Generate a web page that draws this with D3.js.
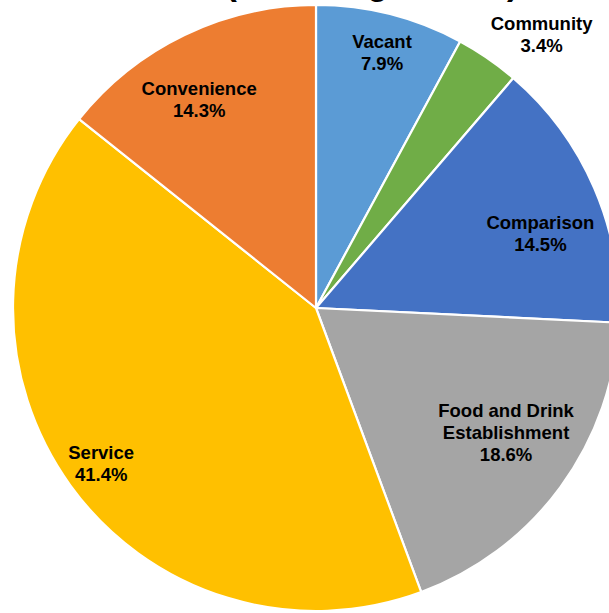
<!DOCTYPE html>
<html>
<head>
<meta charset="utf-8">
<script src="https://cdn.jsdelivr.net/npm/d3@7"></script>
<style>
  html, body { margin: 0; padding: 0; background: #fff; }
  svg { display: block; }
  text { font-family: "Liberation Sans", Arial, sans-serif; font-weight: bold; fill: #000; }
</style>
</head>
<body>
<svg id="chart" width="609" height="613"></svg>
<script>
// ---- data ----
const categories = ["Vacant", "Community", "Comparison", "Food and Drink Establishment", "Service", "Convenience"];
const labelLines = [["Vacant"], ["Community"], ["Comparison"], ["Food and Drink", "Establishment"], ["Service"], ["Convenience"]];
const values = [7.9, 3.4, 14.5, 18.6, 41.4, 14.3];
const percentLabels = ["7.9%", "3.4%", "14.5%", "18.6%", "41.4%", "14.3%"];
const colors = ["#5B9BD5", "#70AD47", "#4472C4", "#A5A5A5", "#FFC000", "#ED7D31"];
const titleText = "(Including Vacant)";

// ---- layout ----
const W = 609, H = 613;
const cx = 316, cy = 308, R = 303;
// label placement: radius (fraction of R) and angle shift (degrees)
const labelPlace = [
  { r: 0.87, da: 0.3 },
  { r: 1.17, da: 5.0 },
  { r: 0.78, da: 5.0 },
  { r: 0.75, da: -3.0 },
  { r: 0.875, da: 0.0 },
  { r: 0.79, da: -3.5 }
];

const svg = d3.select("#chart");

svg.append("text")
  .attr("x", 372).attr("y", -5)
  .attr("text-anchor", "middle")
  .style("font-size", "34px")
  .text(titleText);

const pie = d3.pie().sort(null).value(d => d)(values);
const arc = d3.arc().innerRadius(0).outerRadius(R);

const g = svg.append("g").attr("transform", `translate(${cx},${cy})`);

g.selectAll("path").data(pie).join("path")
  .attr("d", arc)
  .attr("fill", (d, i) => colors[i])
  .attr("stroke", "#fff")
  .attr("stroke-width", 2.2)
  .attr("stroke-linejoin", "round");

const fs = 18.5, lh = 22;
pie.forEach((d, i) => {
  const mid = (d.startAngle + d.endAngle) / 2 + labelPlace[i].da * Math.PI / 180;
  const rr = R * labelPlace[i].r;
  const x = Math.sin(mid) * rr, y = -Math.cos(mid) * rr;
  const lines = labelLines[i].concat([percentLabels[i]]);
  const t = g.append("text")
    .attr("text-anchor", "middle")
    .style("font-size", fs + "px");
  const y0 = y - (lines.length - 1) * lh / 2 + fs * 0.35;
  lines.forEach((ln, k) => {
    t.append("tspan").attr("x", x).attr("y", y0 + k * lh).text(ln);
  });
});
</script>
</body>
</html>
